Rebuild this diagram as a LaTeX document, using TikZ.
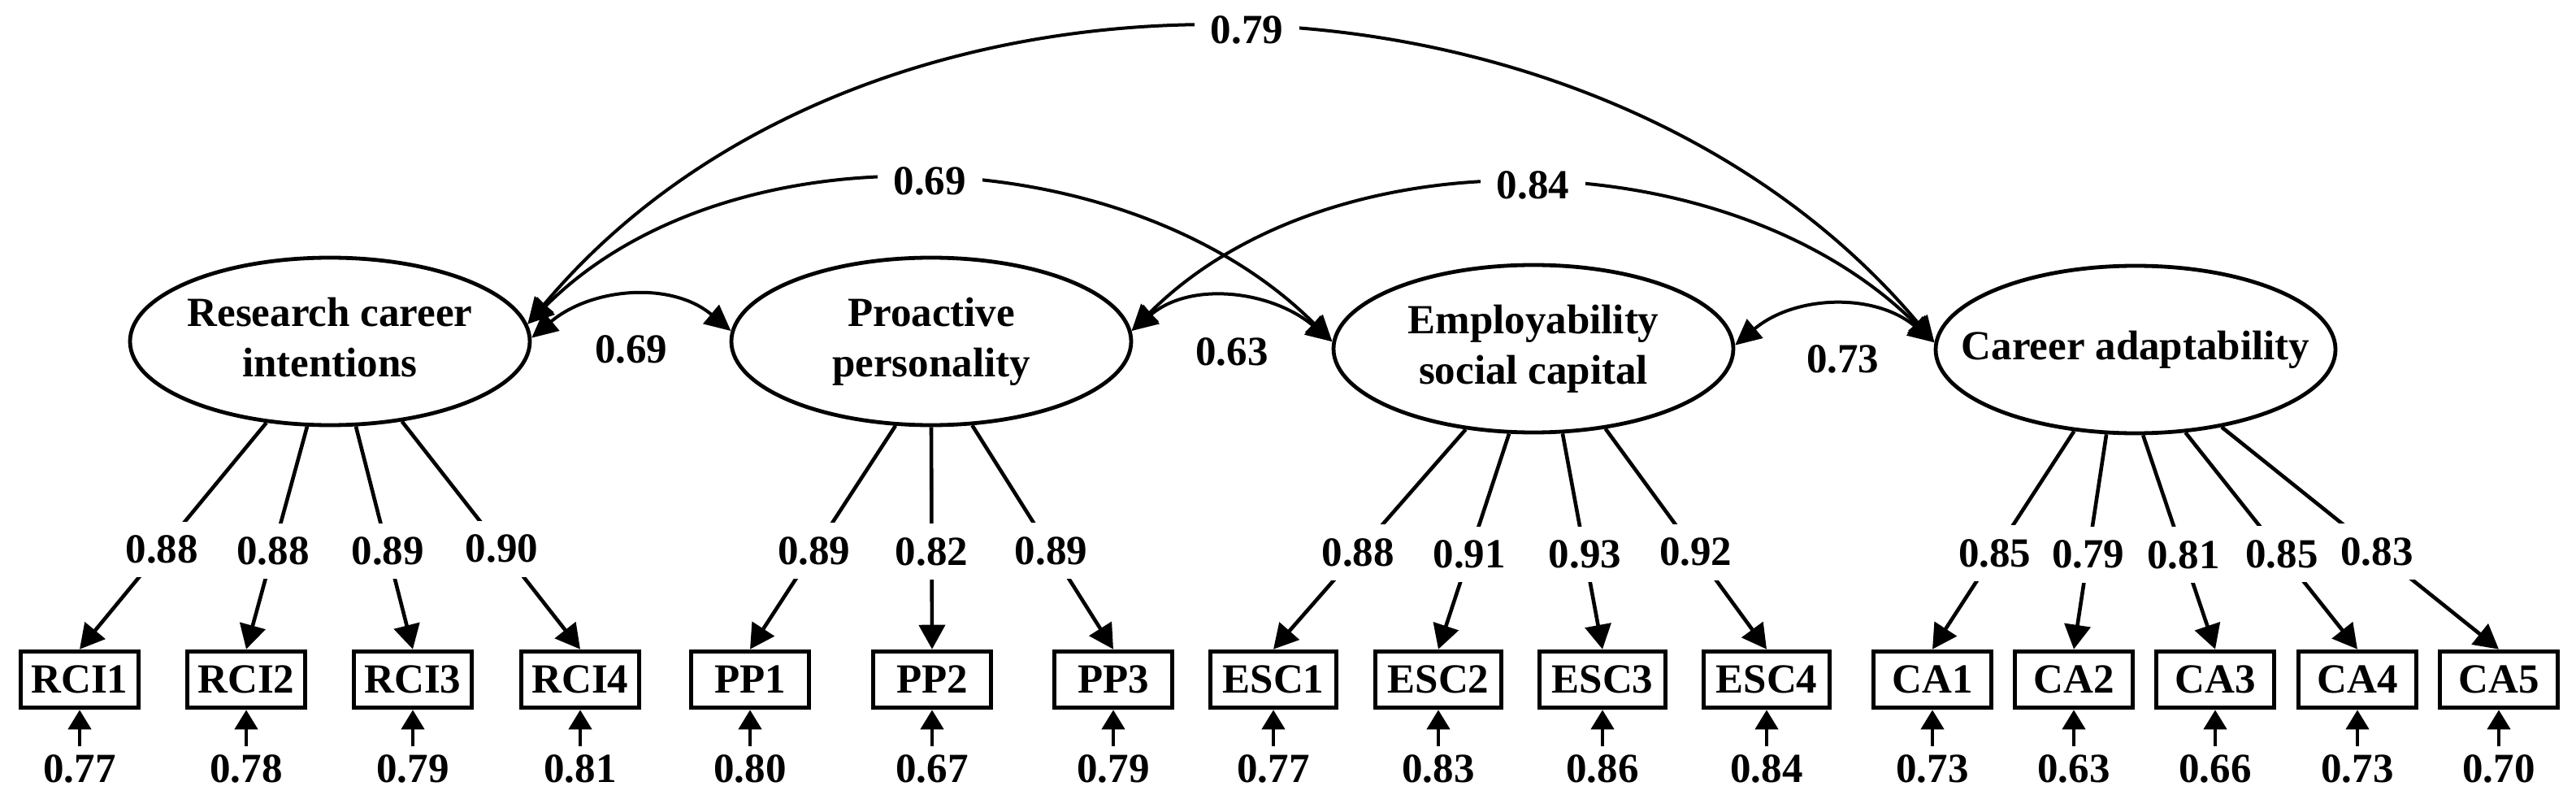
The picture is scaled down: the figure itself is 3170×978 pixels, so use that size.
\documentclass[tikz,border=0pt]{standalone}
\usepackage{fontspec}
\setmainfont{Liberation Serif}
\usetikzlibrary{shapes.geometric,arrows.meta}
\newcommand{\lvtext}[1]{\makebox[0pt]{\begin{tabular}{@{}c@{}}#1\end{tabular}}}
\begin{document}
\begin{tikzpicture}[x=0.5pt,y=0.5pt,
  font=\fontsize{25.5}{31}\selectfont\bfseries,
  latent/.style={ellipse, draw, line width=2.4pt, minimum width=246pt, minimum height=103pt, inner sep=0pt},
  obs/.style={rectangle, draw, line width=2.8pt, minimum width=72.5pt, minimum height=34.5pt, inner sep=0pt},
  obsw/.style={obs, minimum width=77.5pt},
  load/.style={line width=2.3pt, -{Triangle[length=15pt,width=16pt]}},
  loadlab/.style={fill=white, inner xsep=2pt, inner ysep=8.5pt, pos=0.56},
  err/.style={line width=2.2pt, -{Triangle[length=12pt,width=14pt]}},
  errlab/.style={anchor=base, inner xsep=0pt, inner ysep=5pt},
  cov/.style={line width=2pt, {Triangle[length=16pt,width=15pt]}-{Triangle[length=16pt,width=15pt]}},
  covlab/.style={fill=white, inner xsep=10pt, inner ysep=2pt, pos=0.5},
  shortlab/.style={pos=0.5, below=23pt, inner sep=0pt},
]
\useasboundingbox (0,0) rectangle (3170,-978);

% latent variables
\node[latent] (RCI) at (406,-420) {\lvtext{Research career\\intentions}};
\node[latent] (PP) at (1146,-420) {\lvtext{Proactive\\personality}};
\node[latent] (ESC) at (1887,-429) {\lvtext{Employability\\social capital}};
\node[latent] (CA) at (2628,-430) {\lvtext{Career adaptability}};

% observed variables
\node[obs] (RCI1) at (98,-836) {RCI1};
\node[obs] (RCI2) at (303,-836) {RCI2};
\node[obs] (RCI3) at (508,-836) {RCI3};
\node[obs] (RCI4) at (714,-836) {RCI4};
\node[obs] (PP1) at (923,-836) {PP1};
\node[obs] (PP2) at (1147,-836) {PP2};
\node[obs] (PP3) at (1370,-836) {PP3};
\node[obsw] (ESC1) at (1567,-836) {ESC1};
\node[obsw] (ESC2) at (1770,-836) {ESC2};
\node[obsw] (ESC3) at (1972,-836) {ESC3};
\node[obsw] (ESC4) at (2174,-836) {ESC4};
\node[obs] (CA1) at (2378,-836) {CA1};
\node[obs] (CA2) at (2552,-836) {CA2};
\node[obs] (CA3) at (2726,-836) {CA3};
\node[obs] (CA4) at (2901,-836) {CA4};
\node[obs] (CA5) at (3075,-836) {CA5};

% error terms
\foreach \n/\x/\v in {RCI1/98/0.77, RCI2/303/0.78, RCI3/508/0.79, RCI4/714/0.81,
  PP1/923/0.80, PP2/1147/0.67, PP3/1370/0.79,
  ESC1/1567/0.77, ESC2/1770/0.83, ESC3/1972/0.86, ESC4/2174/0.84,
  CA1/2378/0.73, CA2/2552/0.63, CA3/2726/0.66, CA4/2901/0.73, CA5/3075/0.70}{
  \node[errlab] (e\n) at (\x,-962) {\v};
  \draw[err] (e\n.north) -- (\n.south);
}

% loadings
\draw[load] (RCI.232) -- node[loadlab]{0.88} (RCI1.north);
\draw[load] (RCI.255) -- node[loadlab]{0.88} (RCI2.north);
\draw[load] (RCI.287) -- node[loadlab]{0.89} (RCI3.north);
\draw[load] (RCI.312) -- node[loadlab]{0.90} (RCI4.north);
\draw[load] (PP.247) -- node[loadlab]{0.89} (PP1.north);
\draw[load] (PP.270) -- node[loadlab]{0.82} (PP2.north);
\draw[load] (PP.296) -- node[loadlab]{0.89} (PP3.north);
\draw[load] (ESC.230) -- node[loadlab]{0.88} (ESC1.north);
\draw[load] (ESC.254) -- node[loadlab]{0.91} (ESC2.north);
\draw[load] (ESC.289) -- node[loadlab]{0.93} (ESC3.north);
\draw[load] (ESC.312) -- node[loadlab]{0.92} (ESC4.north);
\draw[load] (CA.233) -- node[loadlab]{0.85} (CA1.north);
\draw[load] (CA.251) -- node[loadlab]{0.79} (CA2.north);
\draw[load] (CA.275) -- node[loadlab]{0.81} (CA3.north);
\draw[load] (CA.301) -- node[loadlab]{0.85} (CA4.north);
\draw[load] (CA.318) -- node[loadlab]{0.83} (CA5.north);

% correlations
\draw[cov] (RCI.1) to[out=40,in=140] node[shortlab]{0.69} (PP.177);
\draw[cov] (PP.3) to[out=40,in=140] node[shortlab]{0.63} (ESC.178);
\draw[cov] (ESC.1) to[out=40,in=140] node[shortlab, xshift=5pt]{0.73} (CA.178);
\draw[cov] (RCI.5) to[out=45,in=135,looseness=0.91] node[covlab]{0.69} (ESC.178);
\draw[cov] (PP.3) to[out=45,in=135,looseness=0.91] node[covlab]{0.84} (CA.178);
\draw[cov] (RCI.5) to[out=50,in=130,looseness=0.96] node[covlab, pos=0.51]{0.79} (CA.178);
\end{tikzpicture}
\end{document}
